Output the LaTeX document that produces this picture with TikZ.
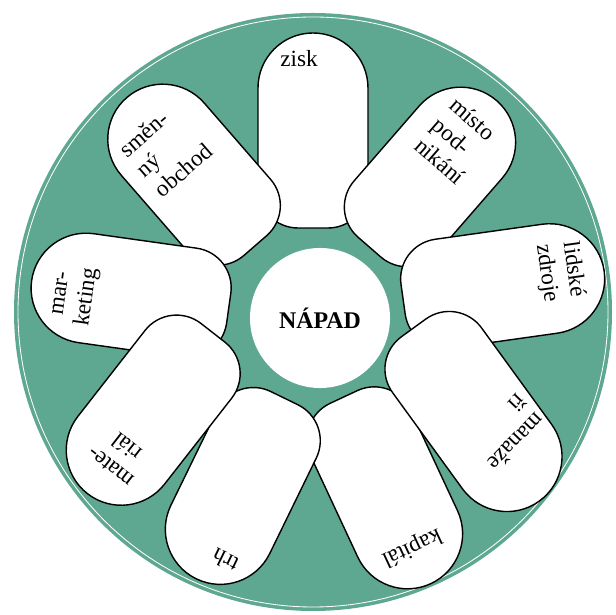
\documentclass[tikz,border=0pt]{standalone}
\usepackage{fontspec}
\setmainfont{Liberation Serif}
\definecolor{wheel}{RGB}{94,167,144}

\begin{document}
\begin{tikzpicture}[x=0.025cm,y=0.025cm,
  petal/.style={draw=black,fill=white,line width=1pt,line join=round},
  word/.style={font=\fontsize{16.5}{19}\selectfont,transform shape,rotate=-90,inner sep=0pt}]
\useasboundingbox (-313,-303) rectangle (303,312);
\fill[wheel] (0,0) circle (299);
\draw[white,line width=0.6pt] (0,0) circle (295);

\begin{scope}[rotate=90]
\draw[petal] (124,-55) -- (224,-55) arc[start angle=-90,end angle=90,radius=55] -- (124,55) arc[start angle=90,end angle=180,radius=40] -- (84,-15) arc[start angle=180,end angle=270,radius=40] -- cycle;
\node[word] (zisk) at (253,14) {zisk};
\end{scope}

\begin{scope}[rotate=131]
\draw[petal] (128,-55) -- (229,-55) arc[start angle=-90,end angle=90,radius=55] -- (128,55) arc[start angle=90,end angle=180,radius=40] -- (88,-15) arc[start angle=180,end angle=270,radius=40] -- cycle;
\node[word,align=left] (smenny) at (219,5) {směn-\\ný\\obchod};
\end{scope}

\begin{scope}[rotate=49]
\draw[petal] (126,-55) -- (225,-55) arc[start angle=-90,end angle=90,radius=55] -- (126,55) arc[start angle=90,end angle=180,radius=40] -- (86,-15) arc[start angle=180,end angle=270,radius=40] -- cycle;
\node[word,align=left] (misto) at (224,3) {místo\\pod-\\nikání};
\end{scope}

\begin{scope}[rotate=8]
\draw[petal] (131,-55) -- (239,-55) arc[start angle=-90,end angle=90,radius=55] -- (131,55) arc[start angle=90,end angle=180,radius=40] -- (91,-15) arc[start angle=180,end angle=270,radius=40] -- cycle;
\node[word,align=center] (lidske) at (250,6) {lidské\\zdroje};
\end{scope}

\begin{scope}[rotate=172,shift={(0,8)}]
\draw[petal] (124,-55) -- (228,-55) arc[start angle=-90,end angle=90,radius=55] -- (124,55) arc[start angle=90,end angle=180,radius=40] -- (84,-15) arc[start angle=180,end angle=270,radius=40] -- cycle;
\node[word,align=center] (marketing) at (237,9) {mar-\\keting};
\end{scope}

\begin{scope}[rotate=-65,shift={(0,-8)}]
\draw[petal] (130,-55) -- (241,-55) arc[start angle=-90,end angle=90,radius=55] -- (130,55) arc[start angle=90,end angle=180,radius=40] -- (90,-15) arc[start angle=180,end angle=270,radius=40] -- cycle;
\node[word] (kapital) at (255,-2) {kapitál};
\end{scope}

\begin{scope}[rotate=-116,shift={(0,12)}]
\draw[petal] (130,-55) -- (236,-55) arc[start angle=-90,end angle=90,radius=55] -- (130,55) arc[start angle=90,end angle=180,radius=40] -- (90,-15) arc[start angle=180,end angle=270,radius=40] -- cycle;
\node[word] (trh) at (262,18) {trh};
\end{scope}

\begin{scope}[rotate=-54,shift={(0,72)}]
\draw[petal] (112,-55) -- (231,-55) arc[start angle=-90,end angle=90,radius=55] -- (112,55) arc[start angle=90,end angle=180,radius=40] -- (72,-15) arc[start angle=180,end angle=270,radius=40] -- cycle;
\node[word,align=left,rotate=10] (manazeri) at (212,14) {manaže\\ři};
\end{scope}

\begin{scope}[rotate=-128,shift={(0,-66)}]
\draw[petal] (118,-55) -- (227,-55) arc[start angle=-90,end angle=90,radius=55] -- (118,55) arc[start angle=90,end angle=180,radius=40] -- (78,-15) arc[start angle=180,end angle=270,radius=40] -- cycle;
\node[word,align=center] (material) at (233,2) {mate-\\riál};
\end{scope}

\node[circle,fill=white,minimum size=3.5cm,inner sep=0pt,font=\fontsize{17}{18}\selectfont\bfseries] (napad) at (7,-6) {NÁPAD};

\end{tikzpicture}
\end{document}
